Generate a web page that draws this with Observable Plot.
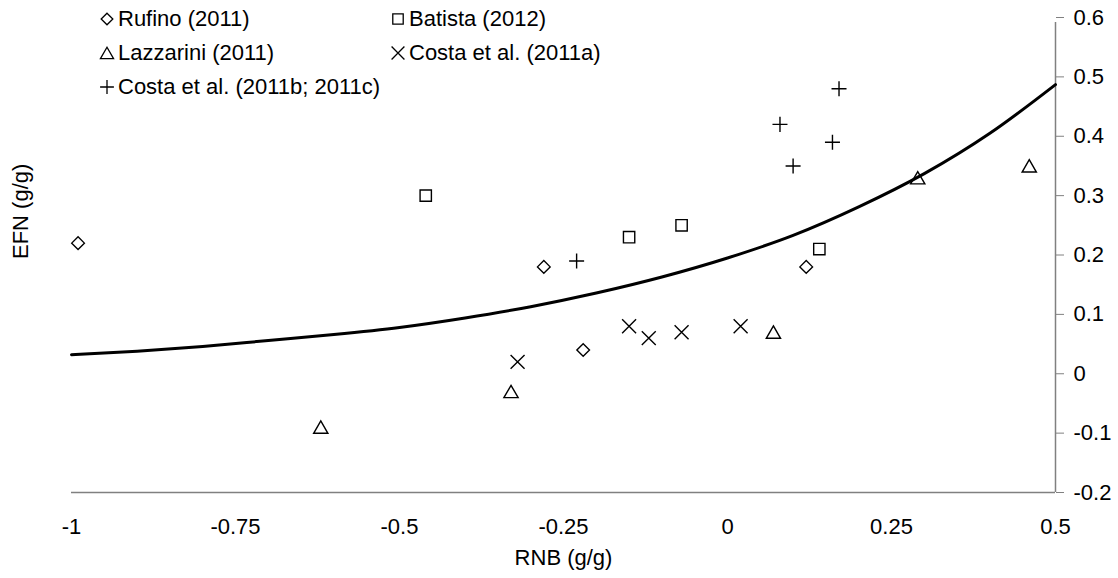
<!DOCTYPE html>
<html>
<head>
<meta charset="utf-8">
<script src="https://cdn.jsdelivr.net/npm/d3@7"></script>
<script src="https://cdn.jsdelivr.net/npm/@observablehq/plot@0.6"></script>
<style>
  html, body { margin: 0; padding: 0; background: #fff; }
  #wrap { position: relative; width: 1118px; height: 578px; font-family: "Liberation Sans", Arial, sans-serif; }
  .lg { position: absolute; display: flex; align-items: center; font-size: 22px; color: #000; white-space: nowrap; }
  .lg svg { margin-right: 1px; }
</style>
</head>
<body>
<div id="wrap"></div>
<script>
// ---- data ----
const rufinoX = [-0.99, -0.28, -0.22, 0.12];
const rufinoY = [0.22, 0.18, 0.04, 0.18];
const batistaX = [-0.46, -0.15, -0.07, 0.14];
const batistaY = [0.30, 0.23, 0.25, 0.21];
const lazzariniX = [-0.62, -0.33, 0.07, 0.29, 0.46];
const lazzariniY = [-0.09, -0.03, 0.07, 0.33, 0.35];
const costaAX = [-0.32, -0.15, -0.12, -0.07, 0.02];
const costaAY = [0.02, 0.08, 0.06, 0.07, 0.08];
const costaBCX = [-0.23, 0.08, 0.10, 0.16, 0.17];
const costaBCY = [0.19, 0.42, 0.35, 0.39, 0.48];
const curveX = [-1, -0.9, -0.8, -0.7, -0.6, -0.5, -0.4, -0.3, -0.2, -0.1, 0, 0.1, 0.2, 0.3, 0.4, 0.5];
const curveY = [0.032, 0.038, 0.046, 0.056, 0.066, 0.078, 0.094, 0.113, 0.136, 0.163, 0.195, 0.233, 0.281, 0.337, 0.405, 0.487];
const xTicks = [-1, -0.75, -0.5, -0.25, 0, 0.25, 0.5];
const xTickLabels = ["-1", "-0.75", "-0.5", "-0.25", "0", "0.25", "0.5"];
const yTicks = [-0.2, -0.1, 0, 0.1, 0.2, 0.3, 0.4, 0.5, 0.6];
const yTickLabels = ["-0.2", "-0.1", "0", "0.1", "0.2", "0.3", "0.4", "0.5", "0.6"];
const seriesNames = ["Rufino (2011)", "Batista (2012)", "Lazzarini (2011)", "Costa et al. (2011a)", "Costa et al. (2011b; 2011c)"];

const zipXY = (xs, ys) => xs.map((x, i) => ({x, y: ys[i]}));
const curve = zipXY(curveX, curveY);
const xLab = new Map(xTicks.map((t, i) => [t, xTickLabels[i]]));
const yLab = new Map(yTicks.map((t, i) => [t, yTickLabels[i]]));

const series = [
  {name: seriesNames[0], data: zipXY(rufinoX, rufinoY), symbol: "diamond2", d3sym: d3.symbolDiamond2, r: 5.7, dy: 0},
  {name: seriesNames[1], data: zipXY(batistaX, batistaY), symbol: "square2", d3sym: d3.symbolSquare2, r: 7.2, dy: 0},
  {name: seriesNames[2], data: zipXY(lazzariniX, lazzariniY), symbol: "triangle2", d3sym: d3.symbolTriangle2, r: 6.8, dy: 2},
  {name: seriesNames[3], data: zipXY(costaAX, costaAY), symbol: "times", d3sym: d3.symbolTimes, r: 6.4, dy: 0},
  {name: seriesNames[4], data: zipXY(costaBCX, costaBCY), symbol: "plus", d3sym: d3.symbolPlus, r: 4.9, dy: 0}
];

const font = "'Liberation Sans', Arial, sans-serif";
const chart = Plot.plot({
  width: 1118,
  height: 578,
  marginLeft: 71,
  marginRight: 63,
  marginTop: 17,
  marginBottom: 86,
  x: {domain: [-1, 0.5]},
  y: {domain: [-0.2, 0.6]},
  style: {fontFamily: font, fontSize: "22px", color: "#000", background: "#fff"},
  marks: [
    Plot.ruleY([-0.2], {stroke: "#808080", strokeWidth: 1.3}),
    Plot.ruleX([0.5], {y1: -0.2, y2: 0.6, stroke: "#808080", strokeWidth: 1.5, insetBottom: -5}),
    Plot.axisY({anchor: "right", ticks: yTicks, tickFormat: d => yLab.get(d), tickSize: 8, tickPadding: 10, stroke: "#808080", label: null, fontSize: 22}),
    Plot.axisX({ticks: xTicks, tickFormat: d => xLab.get(d), tickSize: 0, tickPadding: 26, label: null, fontSize: 22}),
    Plot.line(curve, {x: "x", y: "y", stroke: "#000", strokeWidth: 3, curve: "monotone-x"}),
    ...series.map(s => Plot.dot(s.data, {x: "x", y: "y", symbol: s.symbol, r: s.r, stroke: "#000", strokeWidth: 1.4, fill: "none", dy: s.dy})),
    Plot.text(["RNB (g/g)"], {frameAnchor: "bottom", dy: 72, fontSize: 22}),
    Plot.text(["EFN (g/g)"], {frameAnchor: "left", dx: -51, dy: 4, rotate: -90, fontSize: 22})
  ]
});
const wrap = document.getElementById("wrap");
wrap.appendChild(chart);

// legend overlay
const legendPos = [[97, 19], [388, 19], [97, 53], [388, 53], [97, 87]];
series.forEach((s, i) => {
  const div = document.createElement("div");
  div.className = "lg";
  div.style.left = legendPos[i][0] + "px";
  div.style.top = (legendPos[i][1] - 13) + "px";
  div.style.height = "26px";
  const size = Math.PI * s.r * s.r * 0.85;
  const svg = d3.create("svg").attr("width", 20).attr("height", 26);
  svg.append("path")
    .attr("transform", `translate(10,${13 + s.dy * 0.9})`)
    .attr("d", d3.symbol(s.d3sym, size)())
    .attr("fill", "none").attr("stroke", "#000").attr("stroke-width", 1.3);
  div.appendChild(svg.node());
  const span = document.createElement("span");
  span.textContent = s.name;
  div.appendChild(span);
  wrap.appendChild(div);
});
</script>
</body>
</html>
